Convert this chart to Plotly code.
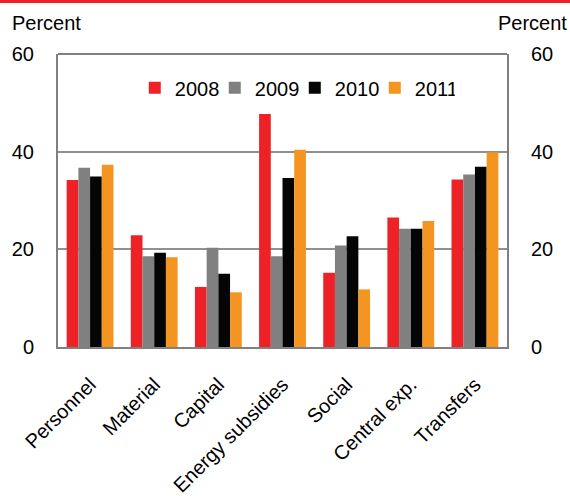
import plotly.graph_objects as go

categories = ["Personnel", "Material", "Capital", "Energy subsidies", "Social", "Central exp.", "Transfers"]
years = ["2008", "2009", "2010", "2011"]
v2008 = [34.2, 22.9, 12.3, 47.7, 15.2, 26.5, 34.3]
v2009 = [36.7, 18.6, 20.3, 18.6, 20.8, 24.2, 35.3]
v2010 = [34.9, 19.3, 15.0, 34.6, 22.7, 24.2, 36.9]
v2011 = [37.3, 18.4, 11.2, 40.4, 11.8, 25.8, 39.9]
colors = ["#ee2226", "#808080", "#050505", "#f39520"]
tickvals = [0, 20, 40, 60]

FONT = "Liberation Sans, Arial, sans-serif"
fig = go.Figure()
for name, vals, c in zip(years, [v2008, v2009, v2010, v2011], colors):
    fig.add_trace(go.Bar(x=categories, y=vals, name=name, marker=dict(color=c, line=dict(width=0))))
# invisible trace for right axis
fig.add_trace(go.Scatter(x=categories, y=v2008, yaxis="y2", mode="markers",
                         marker=dict(opacity=0), showlegend=False, hoverinfo="skip"))

fig.update_layout(
    width=570, height=496,
    margin=dict(l=58, r=63, t=54, b=149),
    paper_bgcolor="white", plot_bgcolor="white",
    font=dict(family=FONT, size=20, color="black"),
    barmode="group", bargap=0.27, bargroupgap=0,
    showlegend=True,
    legend=dict(orientation="h", x=0.171, y=0.885, xanchor="left", yanchor="middle",
                font=dict(size=20), bgcolor="rgba(0,0,0,0)", itemwidth=30,
                entrywidth=35, entrywidthmode="pixels",
                traceorder="normal"),
    xaxis=dict(tickangle=-45, showline=True, linecolor="#808080", linewidth=2,
               mirror=False, ticks="", tickfont=dict(size=20), ticklabelstandoff=16,
               automargin=False),
    yaxis=dict(range=[0, 60], tickvals=tickvals, showgrid=True, gridcolor="#909090",
               gridwidth=2, showline=True, linecolor="#808080", linewidth=2,
               mirror=False, zeroline=False, ticks="", ticklabelstandoff=18,
               automargin=False),
    yaxis2=dict(range=[0, 60], tickvals=tickvals, overlaying="y", side="right",
                showgrid=False, showline=True, linecolor="#808080", linewidth=2,
                zeroline=False, ticks="", ticklabelstandoff=18, automargin=False),
    shapes=[
        dict(type="line", xref="paper", yref="paper", x0=0, x1=1, y0=1, y1=1,
             line=dict(color="#808080", width=2)),
        dict(type="line", xref="paper", yref="paper", x0=-0.14, x1=1.16, y0=1.179, y1=1.179,
             line=dict(color="#ee2226", width=3)),
    ],
    annotations=[
        dict(text="Percent", xref="paper", yref="paper", x=-0.107, y=1.107,
             xanchor="left", yanchor="middle", showarrow=False, font=dict(size=20)),
        dict(text="Percent", xref="paper", yref="paper", x=1.138, y=1.107,
             xanchor="right", yanchor="middle", showarrow=False, font=dict(size=20)),
    ],
)
fig.write_html("out.html")
